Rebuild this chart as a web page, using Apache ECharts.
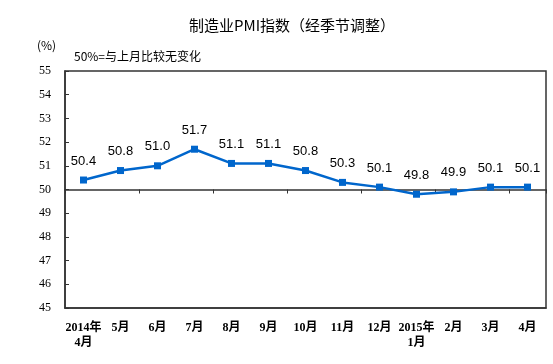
<!DOCTYPE html>
<html><head><meta charset="utf-8">
<script src="https://cdn.jsdelivr.net/npm/echarts@6/dist/echarts.min.js"></script>
<style>html,body{margin:0;padding:0;background:#fff}#c{width:553px;height:364px}</style>
</head><body><div id="c"></div>
<script>
var categories = ['2014年\n4月','5月','6月','7月','8月','9月','10月','11月','12月','2015年\n1月','2月','3月','4月'];
var pmiValues = [50.4, 50.8, 51.0, 51.7, 51.1, 51.1, 50.8, 50.3, 50.1, 49.8, 49.9, 50.1, 50.1];
var yMin = 45, yMax = 55, yInterval = 1;
var baseline = 50;

var chart = echarts.init(document.getElementById('c'), null, {renderer: 'canvas'});
var serif = '"Liberation Serif","Noto Sans CJK SC",serif';
var axisColor = '#333';
var gridH = 237;
chart.setOption({
  animation: false,
  backgroundColor: '#fff',
  title: {
    text: '制造业PMI指数（经季节调整）',
    left: 287, top: 13, textAlign: 'center',
    textStyle: {fontSize: 15, fontWeight: 'normal', color: '#000', fontFamily: '"Noto Sans CJK SC",sans-serif'}
  },
  graphic: [
    {type: 'text', left: 37, top: 39, style: {text: '(%)', fontSize: 12, fill: '#000', fontFamily: '"Noto Sans CJK SC",sans-serif'}},
    {type: 'text', left: 74, top: 50, style: {text: '50%=与上月比较无变化', fontSize: 12, fill: '#000', fontFamily: '"Noto Sans CJK SC",sans-serif'}}
  ],
  grid: {left: 65, top: 71, width: 481, height: gridH, show: true, borderColor: axisColor, borderWidth: 1.5, backgroundColor: 'transparent'},
  xAxis: [{
    type: 'category', data: categories, position: 'bottom',
    axisLine: {show: true, onZero: false, lineStyle: {color: axisColor, width: 1.5}},
    axisTick: {show: false},
    axisLabel: {color: '#000', fontSize: 12, fontWeight: 'bold', fontFamily: serif, margin: 12, interval: 0, lineHeight: 15}
  }, {
    type: 'category', data: categories, position: 'bottom',
    offset: -(gridH * (baseline - yMin) / (yMax - yMin)),
    axisLine: {show: true, onZero: false, lineStyle: {color: axisColor, width: 1.5}},
    axisTick: {show: true, length: 4, inside: false, lineStyle: {color: axisColor, width: 1}},
    axisLabel: {show: false}
  }],
  yAxis: {
    type: 'value', min: yMin, max: yMax, interval: yInterval,
    axisLine: {show: true, lineStyle: {color: axisColor, width: 1.5}},
    axisTick: {show: true, inside: true, length: 4, lineStyle: {color: axisColor}},
    splitLine: {show: false},
    axisLabel: {color: '#000', fontSize: 12, fontFamily: serif, margin: 14}
  },
  series: [{
    type: 'line', data: pmiValues, xAxisIndex: 0,
    symbol: 'rect', symbolSize: 7,
    lineStyle: {color: '#0066cc', width: 2.5},
    itemStyle: {color: '#0066cc'},
    label: {show: true, position: 'top', distance: 9, color: '#000', fontSize: 13,
      fontFamily: '"Liberation Sans",Arial,sans-serif',
      formatter: function(p){ return p.value.toFixed(1); }}
  }]
});
</script></body></html>
